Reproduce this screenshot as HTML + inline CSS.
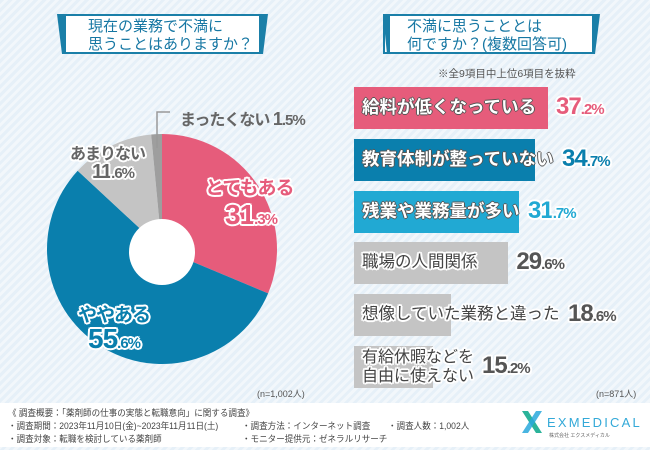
<!DOCTYPE html>
<html><head><meta charset="utf-8">
<style>
html,body{margin:0;padding:0}
body{width:650px;height:450px;overflow:hidden;position:relative;font-family:"Liberation Sans","Noto Sans CJK JP",sans-serif;
background:repeating-linear-gradient(135deg,#e6f0f8 0 3px,#f2f7fb 3px 6px);}
.tbox{position:absolute;height:40px;background:#fff;border:2px solid #1a7fa8;color:#1677a3;font-size:15px;line-height:18px;padding:2px 0 0 22px;box-sizing:border-box}
.bar{position:absolute;left:354px;height:42px}
.blabel{position:absolute;left:362px;font-weight:bold;color:#fff;white-space:nowrap}
.pct{position:absolute;font-weight:bold;font-size:24px;letter-spacing:-1px;white-space:nowrap}
.pct small{font-size:15px}
.outline{text-shadow:2px 0 #fff,-2px 0 #fff,0 2px #fff,0 -2px #fff,1.5px 1.5px #fff,-1.5px -1.5px #fff,1.5px -1.5px #fff,-1.5px 1.5px #fff}
.darkline{text-shadow:1px 0 #555,-1px 0 #555,0 1px #555,0 -1px #555}
.foot{position:absolute;left:0;top:403px;width:650px;height:44px;background:#fff}
.ft{position:absolute;font-size:9px;color:#444;white-space:nowrap;transform-origin:0 0}
.sq{transform:scaleX(0.95)}
</style></head><body>
<div class="tbox" style="left:64px;top:14px;width:197px;">現在の業務で不満に<br>思うことはありますか？</div>
<div class="tbox" style="left:383px;top:14px;width:211px;">不満に思うこととは<br>何ですか？(複数回答可)</div>
<svg width="650" height="70" style="position:absolute;left:0;top:0">
<polygon points="57,14 66,14 66,54 62,54" fill="#1a7fa8"/><polygon points="261,14 268,14 263,54 261,54" fill="#1a7fa8"/>
<polygon points="383,14 390,14 390,54 387,54" fill="#1a7fa8"/><polygon points="592,14 600,14 595,54 592,54" fill="#1a7fa8"/>
</svg>
<div style="position:absolute;left:438px;top:66px;font-size:10.5px;color:#555">※全9項目中上位6項目を抜粋</div>

<svg id="pie" width="330" height="400" style="position:absolute;left:0;top:0"></svg>

<div class="pct outline" style="left:205px;top:173px;color:#e65c7b;font-size:19px">とてもある</div>
<div class="pct outline" style="left:225px;top:199px;color:#e65c7b;font-size:28px">31<small>.3%</small></div>
<div class="pct outline" style="left:78px;top:300px;color:#0a7fad;font-size:19px">ややある</div>
<div class="pct outline" style="left:88px;top:323px;color:#0a7fad;font-size:28px">55<small>.6%</small></div>
<div class="pct outline" style="left:70px;top:140px;color:#666;font-size:16px">あまりない</div>
<div class="pct outline" style="left:92px;top:161px;color:#666;font-size:20px">11<small>.6%</small></div>
<div class="pct" style="left:180px;top:106px;color:#666;font-size:16px">まったくない <span style="font-size:18px">1</span><small>.5%</small></div>
<div class="ft" style="left:257px;top:387px;color:#555">(n=1,002人)</div>

<div id="bars"></div>
<div class="ft" style="left:596px;top:387px;color:#555">(n=871人)</div>

<div class="foot">
<div class="ft sq" style="left:8px;top:3px">《 調査概要：「薬剤師の仕事の実態と転職意向」に関する調査》</div>
<div class="ft sq" style="left:8px;top:16px">・調査期間：2023年11月10日(金)~2023年11月11日(土)</div>
<div class="ft sq" style="left:8px;top:29px">・調査対象：転職を検討している薬剤師</div>
<div class="ft sq" style="left:242px;top:16px">・調査方法：インターネット調査</div>
<div class="ft sq" style="left:242px;top:29px">・モニター提供元：ゼネラルリサーチ</div>
<div class="ft sq" style="left:388px;top:16px">・調査人数：1,002人</div>
<svg width="22" height="22" style="position:absolute;left:521px;top:8px">
<polygon points="1,0 7,0 21,22 15,22" fill="#2bb39a"/><polygon points="15,0 21,0 7,22 1,22" fill="#29a8dc" opacity="0.85"/></svg>
<div style="position:absolute;left:547px;top:12px;font-size:13px;letter-spacing:2.2px;color:#33a9d8">EXMEDICAL</div>
<div class="ft" style="left:549px;top:29px;font-size:5px;color:#666">株式会社 エクスメディカル</div>
</div>

<script>
const pieLabels=["とてもある","ややある","あまりない","まったくない"];
const pieValues=[31.3,55.6,11.6,1.5];
const pieColors=["#e65c7b","#0a7fad","#c4c4c4","#9e9e9e"];
const barLabels=["給料が低くなっている","教育体制が整っていない","残業や業務量が多い","職場の人間関係","想像していた業務と違った","有給休暇などを\n自由に使えない"];
const barValues=[37.2,34.7,31.7,29.6,18.6,15.2];
const barColors=["#e65c7b","#0a7fad","#21a9d3","#c4c4c4","#c4c4c4","#c4c4c4"];
const barTextColors=["#e65c7b","#0a7fad","#21a9d3","#555","#555","#555"];

const NS="http://www.w3.org/2000/svg";
const svg=document.getElementById('pie');
const cx=162,cy=249,R=115;
const total=pieValues.reduce((a,b)=>a+b,0);
let a0=0;
pieValues.forEach((v,i)=>{
  const a1=a0+v/total*2*Math.PI;
  const x0=cx+R*Math.sin(a0),y0=cy-R*Math.cos(a0),x1=cx+R*Math.sin(a1),y1=cy-R*Math.cos(a1);
  const p=document.createElementNS(NS,'path');
  p.setAttribute('d',`M${cx},${cy} L${x0},${y0} A${R},${R} 0 ${a1-a0>Math.PI?1:0} 1 ${x1},${y1} Z`);
  p.setAttribute('fill',pieColors[i]);
  
  
  svg.appendChild(p);
  a0=a1;
});
const hole=document.createElementNS(NS,'circle');
hole.setAttribute('cx',cx);hole.setAttribute('cy',cy+3);hole.setAttribute('r',33);hole.setAttribute('fill','#fff');


svg.appendChild(hole);
const ld=document.createElementNS(NS,'polyline');
ld.setAttribute('points','170,112 157,112 157,148');ld.setAttribute('fill','none');ld.setAttribute('stroke','#999');ld.setAttribute('stroke-width','1.5');


svg.appendChild(ld);

const bars=document.getElementById('bars');
const scale=194/37.2;
const fontSizes=[17.5,17.5,17.5,16.5,16.5,16];
barValues.forEach((v,i)=>{
  const top=87+i*51.8;
  const w=v*scale;
  const b=document.createElement('div');
  b.className='bar';b.style.top=top+'px';b.style.width=w+'px';b.style.background=barColors[i];
  
  
  bars.appendChild(b);
  const l=document.createElement('div');
  const two=barLabels[i].includes('\n');
  l.style.top=(top+(two?2:9))+'px';
  l.style.lineHeight=two?'19px':'22px';
  l.style.fontSize=fontSizes[i]+'px';
  if(i>=3){l.style.color='#444';l.style.fontWeight='normal';l.className='blabel outline';}
  else{l.className='blabel darkline';}
  l.innerHTML=barLabels[i].replace('\n','<br>');
  
  
  bars.appendChild(l);
  const t=document.createElement('div');
  t.className='pct outline';
  const px=Math.max(354+w,362+l.offsetWidth)+8;
  t.style.left=px+'px';t.style.top=(top+6)+'px';t.style.color=barTextColors[i];
  const s=v.toFixed(1).split('.');
  t.innerHTML=s[0]+'<small>.'+s[1]+'%</small>';
  
  
  bars.appendChild(t);
});
</script>
</body></html>
